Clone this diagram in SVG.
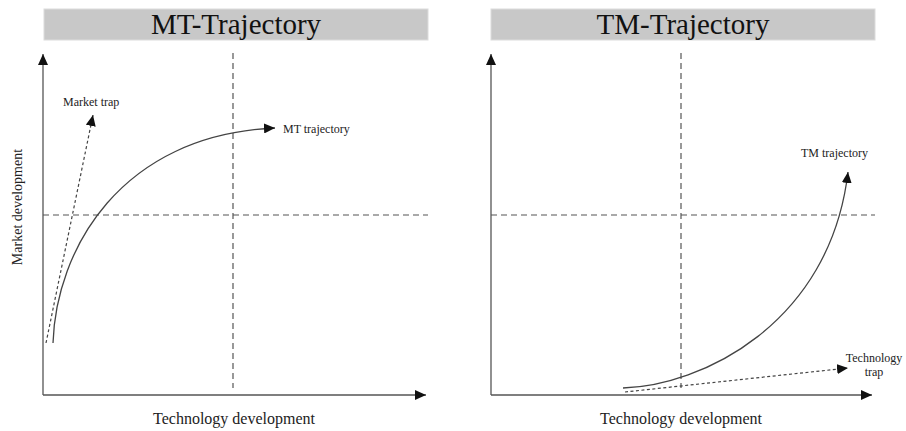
<svg xmlns="http://www.w3.org/2000/svg" width="906" height="431" viewBox="0 0 906 431">
<style>
.title{font-family:"Liberation Serif","DejaVu Serif",serif;font-size:29px;fill:#111;text-anchor:middle}
.lbl{font-family:"Liberation Serif","DejaVu Serif",serif;font-size:12px;fill:#222}
.axl{font-family:"Liberation Serif","DejaVu Serif",serif;font-size:16px;fill:#222;text-anchor:middle}
.bar{fill:#c8c8c8;stroke:#dcdcdc;stroke-width:1}
.axis{stroke:#555;stroke-width:1.3;fill:none}
.guide{stroke:#555;stroke-width:1.2;stroke-dasharray:6 4;fill:none}
.traj{stroke:#444;stroke-width:1.3;fill:none}
.trap{stroke:#444;stroke-width:1.2;stroke-dasharray:3 2.5;fill:none}
</style>
<defs>
<marker id="ah" markerUnits="userSpaceOnUse" markerWidth="12" markerHeight="10" refX="11" refY="5" orient="auto">
<path d="M0,0 L11,5 L0,10 Z" fill="#111"/>
</marker>
</defs>
<rect width="906" height="431" fill="#fff"/>

<g id="mt-panel">
<g id="mt-title"><rect class="bar" x="44" y="9" width="384" height="31"/><text class="title" x="236" y="34">MT-Trajectory</text></g>
<g id="mt-axes">
<line class="axis" x1="43" y1="395" x2="43" y2="54" marker-end="url(#ah)"/>
<line class="axis" x1="43" y1="395" x2="426" y2="395" marker-end="url(#ah)"/>
<text class="axl" x="0" y="0" transform="translate(22,207) rotate(-90)" style="font-size:14px">Market development</text>
<text class="axl" x="234" y="424">Technology development</text>
</g>
<g id="mt-guides">
<line class="guide" x1="233" y1="53" x2="233" y2="388"/>
<line class="guide" x1="43" y1="215" x2="428" y2="215"/>
</g>
</g>

<g id="tm-panel">
<g id="tm-title"><rect class="bar" x="491" y="9" width="384" height="31"/><text class="title" x="683" y="34">TM-Trajectory</text></g>
<g id="tm-axes">
<line class="axis" x1="491" y1="395" x2="491" y2="54" marker-end="url(#ah)"/>
<line class="axis" x1="491" y1="395" x2="872" y2="395" marker-end="url(#ah)"/>
<text class="axl" x="681" y="424">Technology development</text>
</g>
<g id="tm-guides">
<line class="guide" x1="681" y1="53" x2="681" y2="388"/>
<line class="guide" x1="491" y1="215" x2="875" y2="215"/>
</g>
</g>

<g id="connectors">
<path id="mt-trajectory" class="traj" d="M53,343 C56,250 120,135 275,128" marker-end="url(#ah)"/>
<path id="market-trap" class="trap" d="M46,343 L93,115" marker-end="url(#ah)"/>
<path id="tm-trajectory" class="traj" d="M623,388 C700,386 830,325 848,172" marker-end="url(#ah)"/>
<path id="technology-trap" class="trap" d="M625,392 L848,368" marker-end="url(#ah)"/>
</g>

<g id="labels">
<text class="lbl" x="63" y="106">Market trap</text>
<text class="lbl" x="283" y="133">MT trajectory</text>
<text class="lbl" x="801" y="157">TM trajectory</text>
<text class="lbl" x="874" y="362" text-anchor="middle">Technology</text>
<text class="lbl" x="874" y="376" text-anchor="middle">trap</text>
</g>
</svg>
